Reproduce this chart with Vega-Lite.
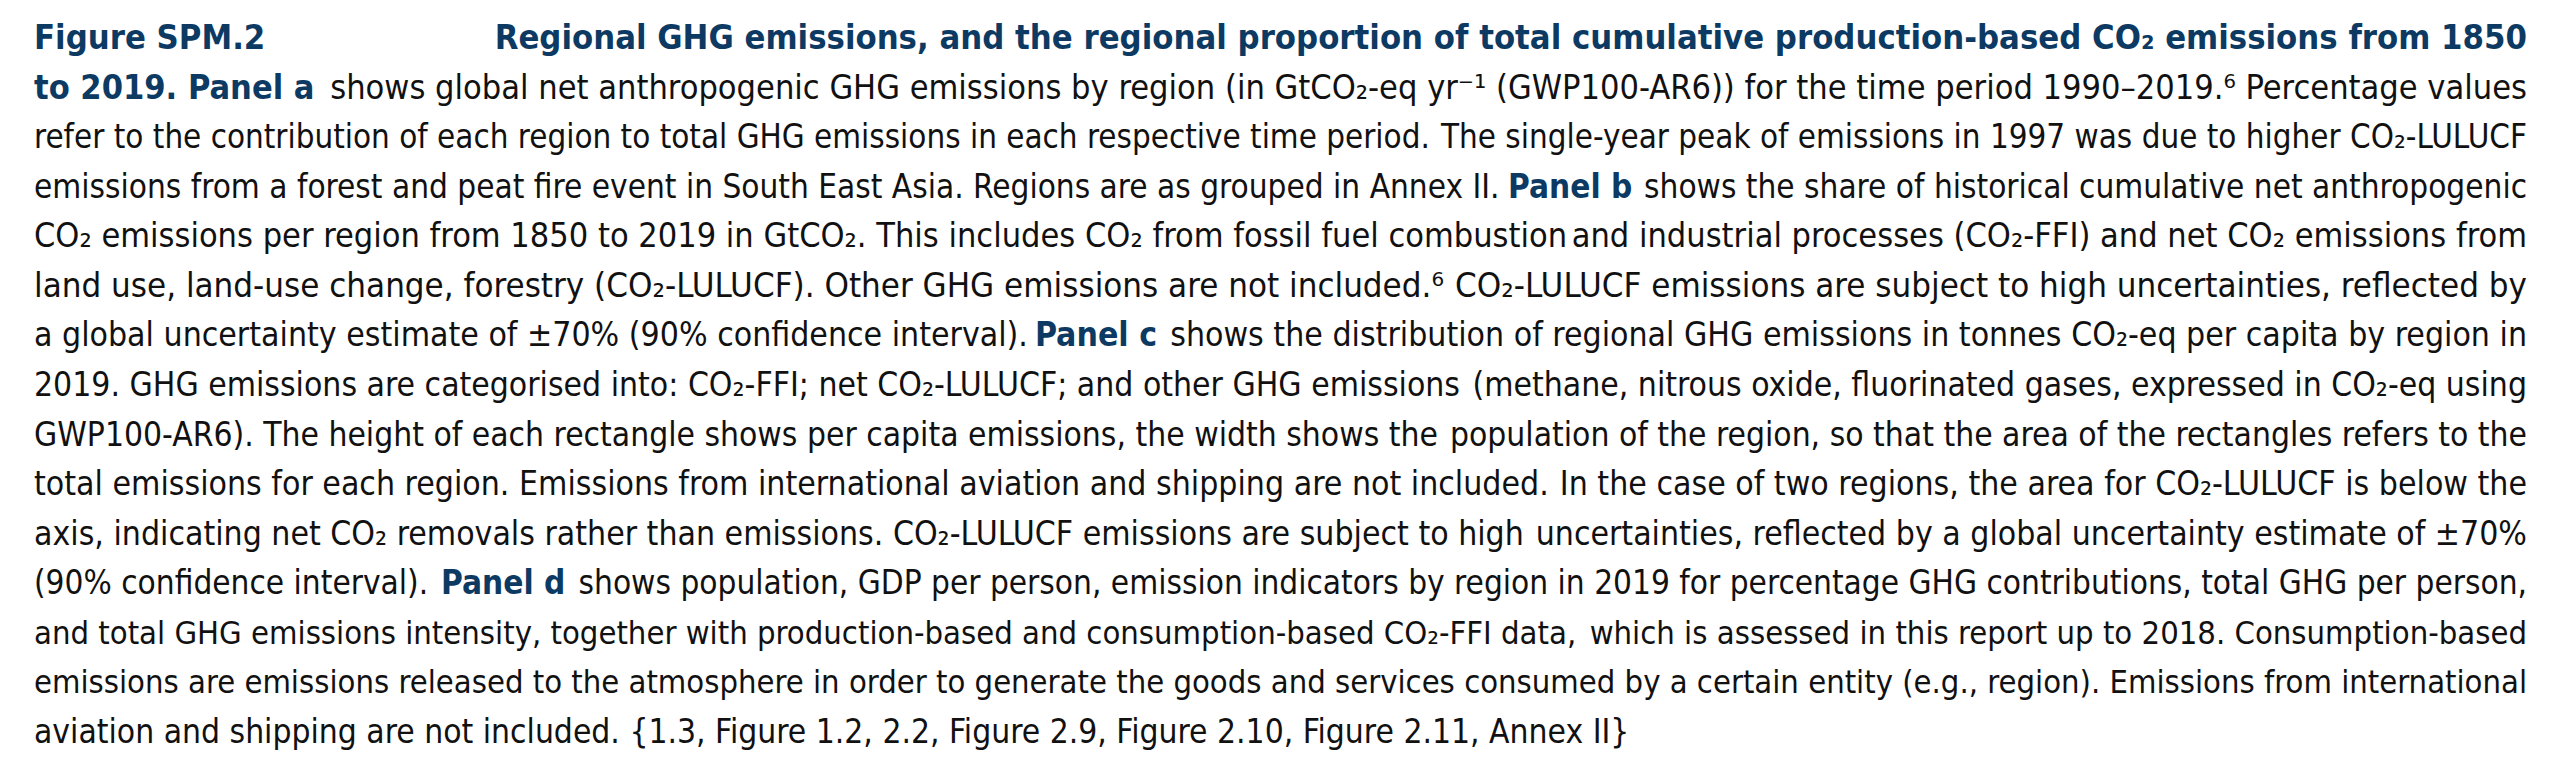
{
  "$schema": "https://vega.github.io/schema/vega-lite/v6.json",
  "width": 2560,
  "height": 766,
  "padding": 0,
  "autosize": {"type": "none"},
  "background": "white",
  "config": {"view": {"stroke": null}},
  "data": {"values": [
    {"line": 1, "side": "start", "pos": 0, "style": "bold", "t": "Figure SPM.2"},
    {"line": 1, "side": "end", "pos": 1, "style": "bold", "t": "Regional GHG emissions, and the regional proportion of total cumulative production-based CO₂ emissions from 1850"},
    {"line": 2, "side": "start", "pos": 0, "style": "bold", "t": "to 2019. Panel a"},
    {"line": 2, "side": "end", "pos": 1, "style": "body", "t": "shows global net anthropogenic GHG emissions by region (in GtCO₂-eq yr⁻¹ (GWP100-AR6)) for the time period 1990–2019.⁶ Percentage values"},
    {"line": 3, "side": "start", "pos": 0, "style": "body", "t": "refer to the contribution of each region to total GHG emissions in each respective time period."},
    {"line": 3, "side": "end", "pos": 1, "style": "body", "t": "The single-year peak of emissions in 1997 was due to higher CO₂-LULUCF"},
    {"line": 4, "side": "start", "pos": 0, "style": "body", "t": "emissions from a forest and peat fire event in South East Asia. Regions are as grouped in Annex II."},
    {"line": 4, "side": "mid", "pos": 0.5913, "style": "bold", "t": "Panel b"},
    {"line": 4, "side": "end", "pos": 1, "style": "body", "t": "shows the share of historical cumulative net anthropogenic"},
    {"line": 5, "side": "start", "pos": 0, "style": "body", "t": "CO₂ emissions per region from 1850 to 2019 in GtCO₂. This includes CO₂ from fossil fuel combustion"},
    {"line": 5, "side": "end", "pos": 1, "style": "body", "t": "and industrial processes (CO₂-FFI) and net CO₂ emissions from"},
    {"line": 6, "side": "start", "pos": 0, "style": "body", "t": "land use, land-use change, forestry (CO₂-LULUCF). Other GHG emissions are not included.⁶"},
    {"line": 6, "side": "end", "pos": 1, "style": "body", "t": "CO₂-LULUCF emissions are subject to high uncertainties, reflected by"},
    {"line": 7, "side": "start", "pos": 0, "style": "body", "t": "a global uncertainty estimate of ±70% (90% confidence interval)."},
    {"line": 7, "side": "mid", "pos": 0.4015, "style": "bold", "t": "Panel c"},
    {"line": 7, "side": "end", "pos": 1, "style": "body", "t": "shows the distribution of regional GHG emissions in tonnes CO₂-eq per capita by region in"},
    {"line": 8, "side": "start", "pos": 0, "style": "body", "t": "2019. GHG emissions are categorised into: CO₂-FFI; net CO₂-LULUCF; and other GHG emissions"},
    {"line": 8, "side": "end", "pos": 1, "style": "body", "t": "(methane, nitrous oxide, fluorinated gases, expressed in CO₂-eq using"},
    {"line": 9, "side": "start", "pos": 0, "style": "body", "t": "GWP100-AR6). The height of each rectangle shows per capita emissions, the width shows the"},
    {"line": 9, "side": "end", "pos": 1, "style": "body", "t": "population of the region, so that the area of the rectangles refers to the"},
    {"line": 10, "side": "start", "pos": 0, "style": "body", "t": "total emissions for each region. Emissions from international aviation and shipping are not included."},
    {"line": 10, "side": "end", "pos": 1, "style": "body", "t": "In the case of two regions, the area for CO₂-LULUCF is below the"},
    {"line": 11, "side": "start", "pos": 0, "style": "body", "t": "axis, indicating net CO₂ removals rather than emissions. CO₂-LULUCF emissions are subject to high"},
    {"line": 11, "side": "end", "pos": 1, "style": "body", "t": "uncertainties, reflected by a global uncertainty estimate of ±70%"},
    {"line": 12, "side": "start", "pos": 0, "style": "body", "t": "(90% confidence interval)."},
    {"line": 12, "side": "mid", "pos": 0.1633, "style": "bold", "t": "Panel d"},
    {"line": 12, "side": "end", "pos": 1, "style": "body", "t": "shows population, GDP per person, emission indicators by region in 2019 for percentage GHG contributions, total GHG per person,"},
    {"line": 13, "side": "start", "pos": 0, "style": "body", "t": "and total GHG emissions intensity, together with production-based and consumption-based CO₂-FFI data,"},
    {"line": 13, "side": "end", "pos": 1, "style": "body", "t": "which is assessed in this report up to 2018. Consumption-based"},
    {"line": 14, "side": "start", "pos": 0, "style": "body", "t": "emissions are emissions released to the atmosphere in order to generate the goods and services"},
    {"line": 14, "side": "end", "pos": 1, "style": "body", "t": "consumed by a certain entity (e.g., region). Emissions from international"},
    {"line": 15, "side": "start", "pos": 0, "style": "body", "t": "aviation and shipping are not included. {1.3, Figure 1.2, 2.2, Figure 2.9, Figure 2.10, Figure 2.11, Annex II}"}
  ]},
  "encoding": {
    "x": {"field": "pos", "type": "quantitative", "axis": null, "scale": {"domain": [0, 1], "range": [34, 2527], "nice": false, "zero": false}},
    "y": {"field": "line", "type": "quantitative", "axis": null, "scale": {"domain": [1, 15], "range": [49, 743], "nice": false, "zero": false}},
    "size": {"field": "line", "type": "quantitative", "legend": null, "scale": {"type": "linear", "zero": false, "nice": false, "domain": [1, 2, 3, 4, 5, 6, 7, 8, 9, 10, 11, 12, 13, 14, 15], "range": [34.3, 34.05, 32.86, 33.05, 34.0, 34.6, 33.5, 33.4, 33.3, 33.5, 33.48, 33.1, 32.5, 32.48, 33.3]}},
    "text": {"field": "t", "type": "nominal"}
  },
  "layer": [
    {"transform": [{"filter": "datum.style === 'body' && datum.side !== 'end'"}],
     "mark": {"type": "text", "align": "left", "baseline": "alphabetic", "font": "DejaVu Sans Condensed, sans-serif", "color": "#111111"}},
    {"transform": [{"filter": "datum.style === 'body' && datum.side === 'end'"}],
     "mark": {"type": "text", "align": "right", "baseline": "alphabetic", "font": "DejaVu Sans Condensed, sans-serif", "color": "#111111"}},
    {"transform": [{"filter": "datum.style === 'bold' && datum.side !== 'end'"}],
     "mark": {"type": "text", "align": "left", "baseline": "alphabetic", "font": "DejaVu Sans Condensed, sans-serif", "fontWeight": "bold", "color": "#0d3a63"}},
    {"transform": [{"filter": "datum.style === 'bold' && datum.side === 'end'"}],
     "mark": {"type": "text", "align": "right", "baseline": "alphabetic", "font": "DejaVu Sans Condensed, sans-serif", "fontWeight": "bold", "color": "#0d3a63"}}
  ]
}
